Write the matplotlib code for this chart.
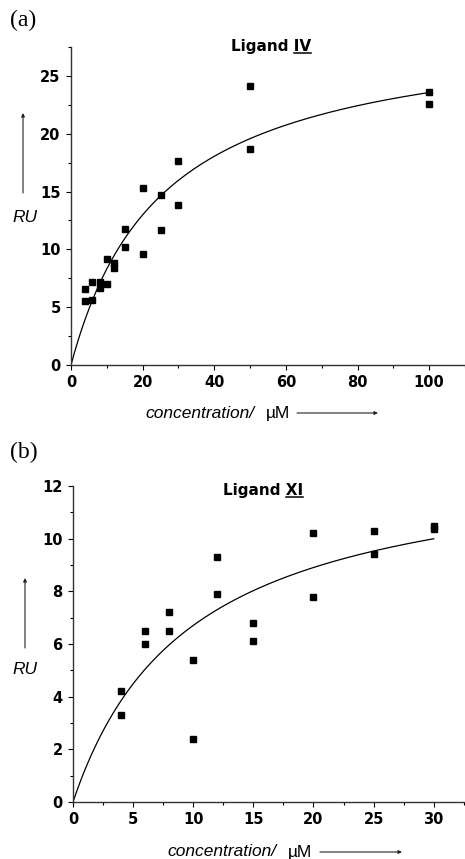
import numpy as np
import matplotlib.pyplot as plt
from matplotlib.ticker import MultipleLocator

# panel (a) - ligand IV
conc_a = [4, 4, 6, 6, 8, 8, 10, 10, 12, 12, 15, 15, 20, 20, 25, 25, 30, 30, 50, 50, 100, 100]
ru_a = [6.6, 5.5, 7.2, 5.6, 7.2, 6.7, 9.2, 7.0, 8.8, 8.4, 11.8, 10.2, 15.3, 9.6, 14.7, 11.7,
        17.6, 13.8, 24.1, 18.7, 23.6, 22.6]
fit_a = (29.6, 25.6)   # Rmax, Kd

# panel (b) - ligand XI
conc_b = [4, 4, 6, 6, 8, 8, 10, 10, 12, 12, 15, 15, 20, 20, 25, 25, 30, 30]
ru_b = [4.2, 3.3, 6.5, 6.0, 7.2, 6.5, 5.4, 2.4, 9.3, 7.9, 6.8, 6.1, 10.2, 7.8, 10.3, 9.4,
        10.5, 10.35]
fit_b = (13.25, 9.76)

W, H = 465, 859
SANS = 'Liberation Sans'
WIDE = 'DejaVu Sans'


def fx(px):
    return px / W


def fy(py):
    return 1 - py / H


def arrow(fig, x0, y0, x1, y1):
    fig.add_artist(plt.Annotation('', xy=(fx(x1), fy(y1)), xytext=(fx(x0), fy(y0)),
                                  xycoords='figure fraction', textcoords='figure fraction',
                                  arrowprops=dict(arrowstyle='-|>', color='#222222', lw=0.8,
                                                  mutation_scale=5, shrinkA=0, shrinkB=0)))


def panel(fig, rect, x, y, fit, xlim, ylim, xmaj, ymaj):
    ax = fig.add_axes(rect)
    ax.plot(x, y, 's', color='black', ms=4.3, zorder=3)
    xs = np.linspace(0, max(x), 300)
    ax.plot(xs, fit[0] * xs / (fit[1] + xs), color='black', lw=0.9)
    ax.set_xlim(*xlim)
    ax.set_ylim(*ylim)
    for s in ['top', 'right']:
        ax.spines[s].set_visible(False)
    for s in ['left', 'bottom']:
        ax.spines[s].set_linewidth(1.0)
        ax.spines[s].set_color('#333333')
    ax.xaxis.set_major_locator(MultipleLocator(xmaj))
    ax.xaxis.set_minor_locator(MultipleLocator(xmaj / 2))
    ax.yaxis.set_major_locator(MultipleLocator(ymaj))
    ax.yaxis.set_minor_locator(MultipleLocator(ymaj / 2))
    ax.tick_params(which='major', direction='out', length=3.5, width=0.8)
    ax.tick_params(which='minor', direction='out', length=2.2, width=0.8)
    ax.tick_params(axis='x', which='major', pad=3.5)
    ax.tick_params(axis='y', which='major', pad=4)
    for lab in ax.get_xticklabels() + ax.get_yticklabels():
        lab.set_fontfamily(WIDE)
        lab.set_fontweight('bold')
        lab.set_fontsize(10.5)
    ax.patch.set_alpha(0)
    return ax


def title(fig, cx, cy, main, roman):
    t = fig.text(fx(cx), fy(cy), main + ' ' + roman, ha='center', va='center',
                 family=WIDE, weight='bold', fontsize=11)
    r = fig.canvas.get_renderer()
    bb = t.get_window_extent(r)
    tmp = fig.text(0, 0, roman, family=WIDE, weight='bold', fontsize=11)
    w = tmp.get_window_extent(r).width
    tmp.remove()
    x1 = bb.x1
    x0 = x1 - w
    yl = bb.y0 + 1.5
    fig.add_artist(plt.Line2D([x0 / W, x1 / W], [yl / H, yl / H], color='black', lw=1.1))


fig = plt.figure(figsize=(W / 100, H / 100), dpi=100)

panel(fig, [fx(71), fy(365), fx(465 - 71), (365 - 47) / H], conc_a, ru_a, fit_a,
      (0, 110), (0, 27.5), 20, 5)
panel(fig, [fx(73), fy(802), fx(465 - 73), (802 - 486) / H], conc_b, ru_b, fit_b,
      (0, 32.6), (0, 12), 5, 2)

fig.canvas.draw()
title(fig, 271, 47, 'Ligand', 'IV')
title(fig, 263, 491, 'Ligand', 'XI')

# panel letters
fig.text(fx(10), fy(20), '(a)', family='Liberation Serif', fontsize=17, va='center')
fig.text(fx(10), fy(452), '(b)', family='Liberation Serif', fontsize=17, va='center')

# y labels with arrows
fig.text(fx(25), fy(217), 'RU', family=SANS, style='italic', fontsize=12.5, ha='center', va='center')
arrow(fig, 23, 193, 23, 113)
fig.text(fx(25), fy(670), 'RU', family=SANS, style='italic', fontsize=12.5, ha='center', va='center')
arrow(fig, 25, 648, 25, 578)

# x labels with arrows
for x0, x1, y0, a0, a1 in [(145, 290, 413, 297, 378), (167, 312, 852, 320, 402)]:
    fig.text(fx(x0), fy(y0), 'concentration/', family=SANS, style='italic',
             fontsize=12.5, va='center', ha='left')
    fig.text(fx(x1), fy(y0), '\u00b5M', family=SANS, fontsize=12.5, va='center', ha='right')
    arrow(fig, a0, y0, a1, y0)

fig.savefig('out.png', dpi=100)
